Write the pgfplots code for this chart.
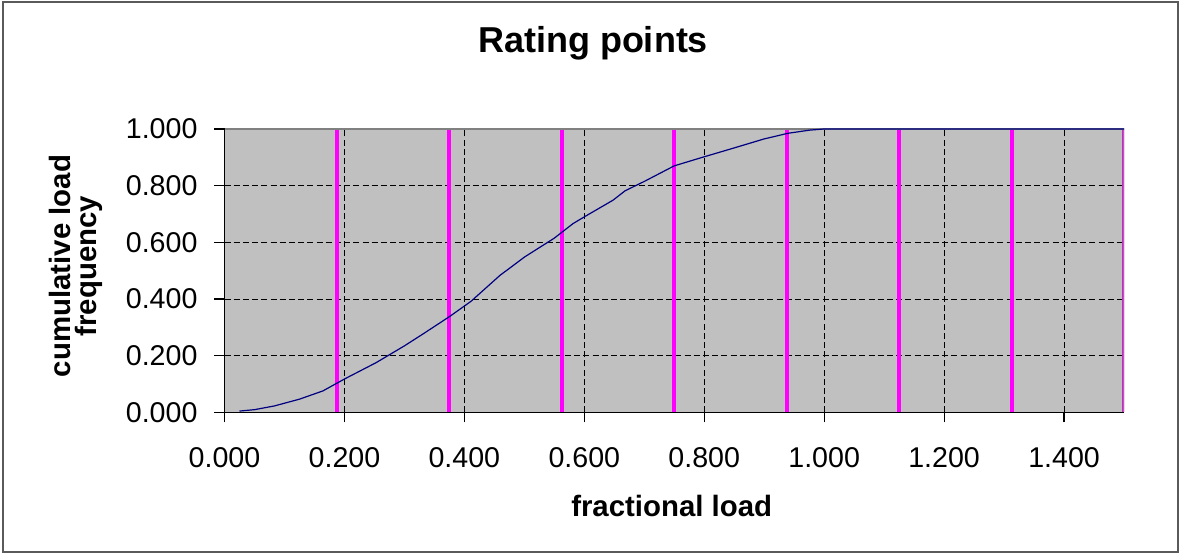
\documentclass[border=0pt]{standalone}
\usepackage{fontspec}
\setmainfont{Liberation Sans}
\usepackage{pgfplots}
\pgfplotsset{compat=1.18}
\definecolor{plotbg}{HTML}{C0C0C0}
\definecolor{ratemag}{HTML}{FF00FF}
\definecolor{curvenavy}{HTML}{000080}
\definecolor{framegray}{HTML}{5A5A5A}
\begin{document}
\begin{tikzpicture}
\path[fill=white] (0,0) rectangle (592pt,277.5pt);
\draw[framegray, line width=1pt] (1.25pt,1.5pt) rectangle (589pt,276.5pt);
\begin{axis}[
  at={(112.25pt,71.25pt)}, anchor=south west,
  scale only axis, width=449.75pt, height=141.75pt,
  xmin=0, xmax=1.5, ymin=0, ymax=1,
  axis lines*=left, axis line style={-, black, line width=0.6pt},
  axis background/.style={fill=plotbg},
  xtick={0,0.2,0.4,0.6,0.8,1.0,1.2,1.4},
  ytick={0,0.2,0.4,0.6,0.8,1.0},
  tick align=outside, major tick length=5pt,
  tick style={black, line width=0.6pt},
  grid=major,
  major grid style={black, line width=0.5pt, dash pattern=on 3pt off 1.6pt},
  /pgf/number format/assume math mode=true,
  /pgf/number format/.cd, fixed, fixed zerofill, precision=3,
  /pgfplots/.cd,
  tick label style={font=\fontsize{14.3}{16}\selectfont},
  yticklabel style={xshift=-5pt},
  xticklabel style={yshift=-9pt},
  title={Rating points},
  title style={font=\bfseries\fontsize{18}{21}\selectfont, at={(axis description cs:0.4097,1.2727)}, anchor=base, yshift=-6.5pt},
  xlabel={fractional load},
  xlabel style={font=\bfseries\fontsize{14.7}{17}\selectfont, at={(axis description cs:0.4972,-0.3675)}, anchor=base},
  ylabel={cumulative load\\frequency},
  ylabel style={font=\bfseries\fontsize{14.7}{13}\selectfont, align=center, at={(axis description cs:-0.1655,0.5168)}, anchor=center},
]
\addplot[ycomb, ratemag, line width=2pt, mark=none] coordinates {
  (0.1875,1) (0.375,1) (0.5625,1) (0.75,1) (0.9375,1) (1.125,1) (1.3125,1) (1.5,1)
};
\draw[gray, line width=0.6pt] (rel axis cs:0,1) -- (rel axis cs:1,1) -- (rel axis cs:1,0);
\addplot[curvenavy, line width=0.6pt, mark=none] coordinates {
  (0.025,0.005) (0.050,0.010) (0.083,0.023) (0.125,0.047) (0.164,0.076)
  (0.200,0.118) (0.253,0.176) (0.300,0.235) (0.331,0.277) (0.375,0.338)
  (0.411,0.392) (0.459,0.483) (0.500,0.548) (0.550,0.615) (0.581,0.666)
  (0.600,0.690) (0.648,0.749) (0.668,0.782) (0.700,0.815) (0.750,0.870)
  (0.800,0.902) (0.848,0.932) (0.900,0.965) (0.940,0.985) (0.976,0.996)
  (1.000,1.000) (1.500,1.000)
};
\end{axis}
\end{tikzpicture}
\end{document}
